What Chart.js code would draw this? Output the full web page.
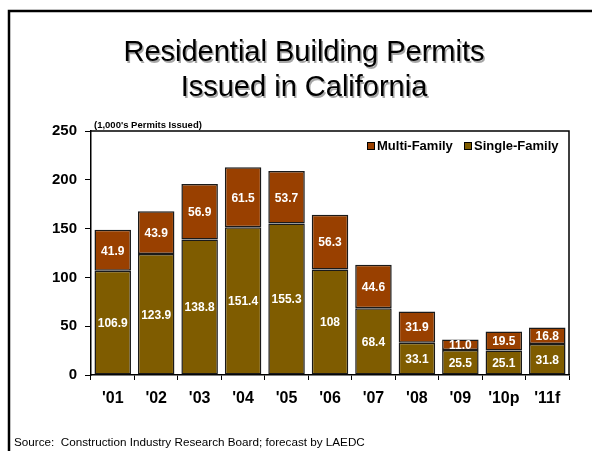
<!DOCTYPE html>
<html>
<head>
<meta charset="utf-8">
<script src="https://cdn.jsdelivr.net/npm/chart.js@4.4.0/dist/chart.umd.min.js"></script>
<style>
  html, body { margin: 0; padding: 0; background: #fff; overflow: hidden; }
  #wrap { position: relative; width: 592px; height: 451px; }
</style>
</head>
<body>
<div id="wrap"><canvas id="c" width="592" height="451"></canvas></div>
<script>
// Datos del gráfico
const years = ["'01", "'02", "'03", "'04", "'05", "'06", "'07", "'08", "'09", "'10p", "'11f"];
const singleFamily = [106.9, 123.9, 138.8, 151.4, 155.3, 108, 68.4, 33.1, 25.5, 25.1, 31.8];
const multiFamily = [41.9, 43.9, 56.9, 61.5, 53.7, 56.3, 44.6, 31.9, 11.0, 19.5, 16.8];
const yTicks = [0, 50, 100, 150, 200, 250];

const titleLines = ['Residential Building Permits', 'Issued in California'];
const unitText = "(1,000's Permits Issued)";
const sourceText = 'Source:  Construction Industry Research Board; forecast by LAEDC';

const colMulti = '#994000';
const colSingle = '#7f5c00';
const FONT = '"Liberation Sans", Arial, sans-serif';

function fmt(v) {
    return (Number.isInteger(v) && v >= 100) ? String(v) : v.toFixed(1);
}

// Marco de la diapositiva, título y fuente
const decorations = {
    id: 'decorations',
    beforeDraw(chart) {
        const ctx = chart.ctx;
        ctx.save();
        ctx.fillStyle = '#fff';
        ctx.fillRect(0, 0, chart.width, chart.height);
        ctx.strokeStyle = '#000';
        ctx.lineWidth = 2.5;
        ctx.beginPath();
        ctx.moveTo(9, 451);
        ctx.lineTo(9, 11);
        ctx.lineTo(592, 11);
        ctx.stroke();

        // título con sombra
        ctx.font = '29px ' + FONT;
        ctx.textAlign = 'center';
        ctx.textBaseline = 'alphabetic';
        ctx.shadowColor = 'rgba(0,0,0,0.35)';
        ctx.shadowOffsetX = 1.5;
        ctx.shadowOffsetY = 1.5;
        ctx.fillStyle = '#000';
        ctx.fillText(titleLines[0], 304, 61);
        ctx.fillText(titleLines[1], 304, 96);
        ctx.restore();

        ctx.save();
        ctx.font = '11.7px ' + FONT;
        ctx.fillStyle = '#000';
        ctx.textAlign = 'left';
        ctx.textBaseline = 'middle';
        ctx.fillText(sourceText, 14, 443);

        ctx.font = 'bold 9.5px ' + FONT;
        ctx.textBaseline = 'alphabetic';
        ctx.fillText(unitText, 94, 128);
        ctx.restore();
    },
    afterDatasetsDraw(chart) {
        const ctx = chart.ctx;
        const area = chart.chartArea;
        ctx.save();
        // caja del área de trazado (arriba y derecha)
        ctx.strokeStyle = '#000';
        ctx.lineWidth = 1.5;
        ctx.beginPath();
        ctx.moveTo(area.left, area.top);
        ctx.lineTo(area.right, area.top);
        ctx.lineTo(area.right, area.bottom);
        ctx.stroke();

        // etiquetas de valores
        ctx.font = 'bold 12px ' + FONT;
        ctx.fillStyle = '#fff';
        ctx.textAlign = 'center';
        ctx.textBaseline = 'middle';
        chart.data.datasets.forEach((ds, i) => {
            const meta = chart.getDatasetMeta(i);
            meta.data.forEach((bar, j) => {
                const p = bar.getProps(['x', 'y', 'base'], true);
                ctx.fillText(fmt(ds.data[j]), p.x, (p.y + p.base) / 2 + 1);
            });
        });

        // leyenda
        const items = [
            { label: 'Multi-Family', color: colMulti, x: 367 },
            { label: 'Single-Family', color: colSingle, x: 464 }
        ];
        ctx.font = 'bold 13px ' + FONT;
        ctx.fillStyle = '#000';
        ctx.textAlign = 'left';
        items.forEach(it => {
            ctx.fillStyle = it.color;
            ctx.fillRect(it.x, 142, 8, 8);
            ctx.strokeStyle = '#000';
            ctx.lineWidth = 1;
            ctx.strokeRect(it.x + 0.5, 142.5, 7, 7);
            ctx.fillStyle = '#000';
            ctx.fillText(it.label, it.x + 10, 146.5);
        });
        ctx.restore();
    }
};

const ctx = document.getElementById('c').getContext('2d');
new Chart(ctx, {
    type: 'bar',
    data: {
        labels: years,
        datasets: [
            {
                label: 'Single-Family',
                data: singleFamily,
                backgroundColor: colSingle,
                borderColor: '#1a1a1a',
                borderWidth: 1.5,
                borderSkipped: false,
                barPercentage: 0.84,
                categoryPercentage: 1
            },
            {
                label: 'Multi-Family',
                data: multiFamily,
                backgroundColor: colMulti,
                borderColor: '#1a1a1a',
                borderWidth: 1.5,
                borderSkipped: false,
                barPercentage: 0.84,
                categoryPercentage: 1
            }
        ]
    },
    options: {
        responsive: false,
        animation: false,
        layout: { padding: { top: 131, right: 23, left: 0, bottom: 0 } },
        plugins: {
            legend: { display: false },
            title: { display: false },
            tooltip: { enabled: false }
        },
        scales: {
            x: {
                stacked: true,
                grid: {
                    display: true,
                    drawOnChartArea: false,
                    drawTicks: true,
                    tickLength: 5,
                    color: '#000',
                    offset: true
                },
                border: { color: '#000', width: 1.5 },
                ticks: {
                    color: '#000',
                    font: { family: FONT, size: 16, weight: 'bold' },
                    padding: 9,
                    maxRotation: 0
                },
                afterFit(scale) { scale.height = 76; }
            },
            y: {
                stacked: true,
                min: 0,
                max: 250,
                afterBuildTicks(scale) {
                    scale.ticks = yTicks.map(v => ({ value: v }));
                },
                grid: {
                    display: true,
                    drawOnChartArea: false,
                    drawTicks: true,
                    tickLength: 6,
                    color: '#000'
                },
                border: { color: '#000', width: 1.5 },
                ticks: {
                    color: '#000',
                    font: { family: FONT, size: 15, weight: 'bold' },
                    padding: 8
                },
                afterFit(scale) { scale.width = 91; }
            }
        }
    },
    plugins: [decorations]
});
</script>
</body>
</html>
